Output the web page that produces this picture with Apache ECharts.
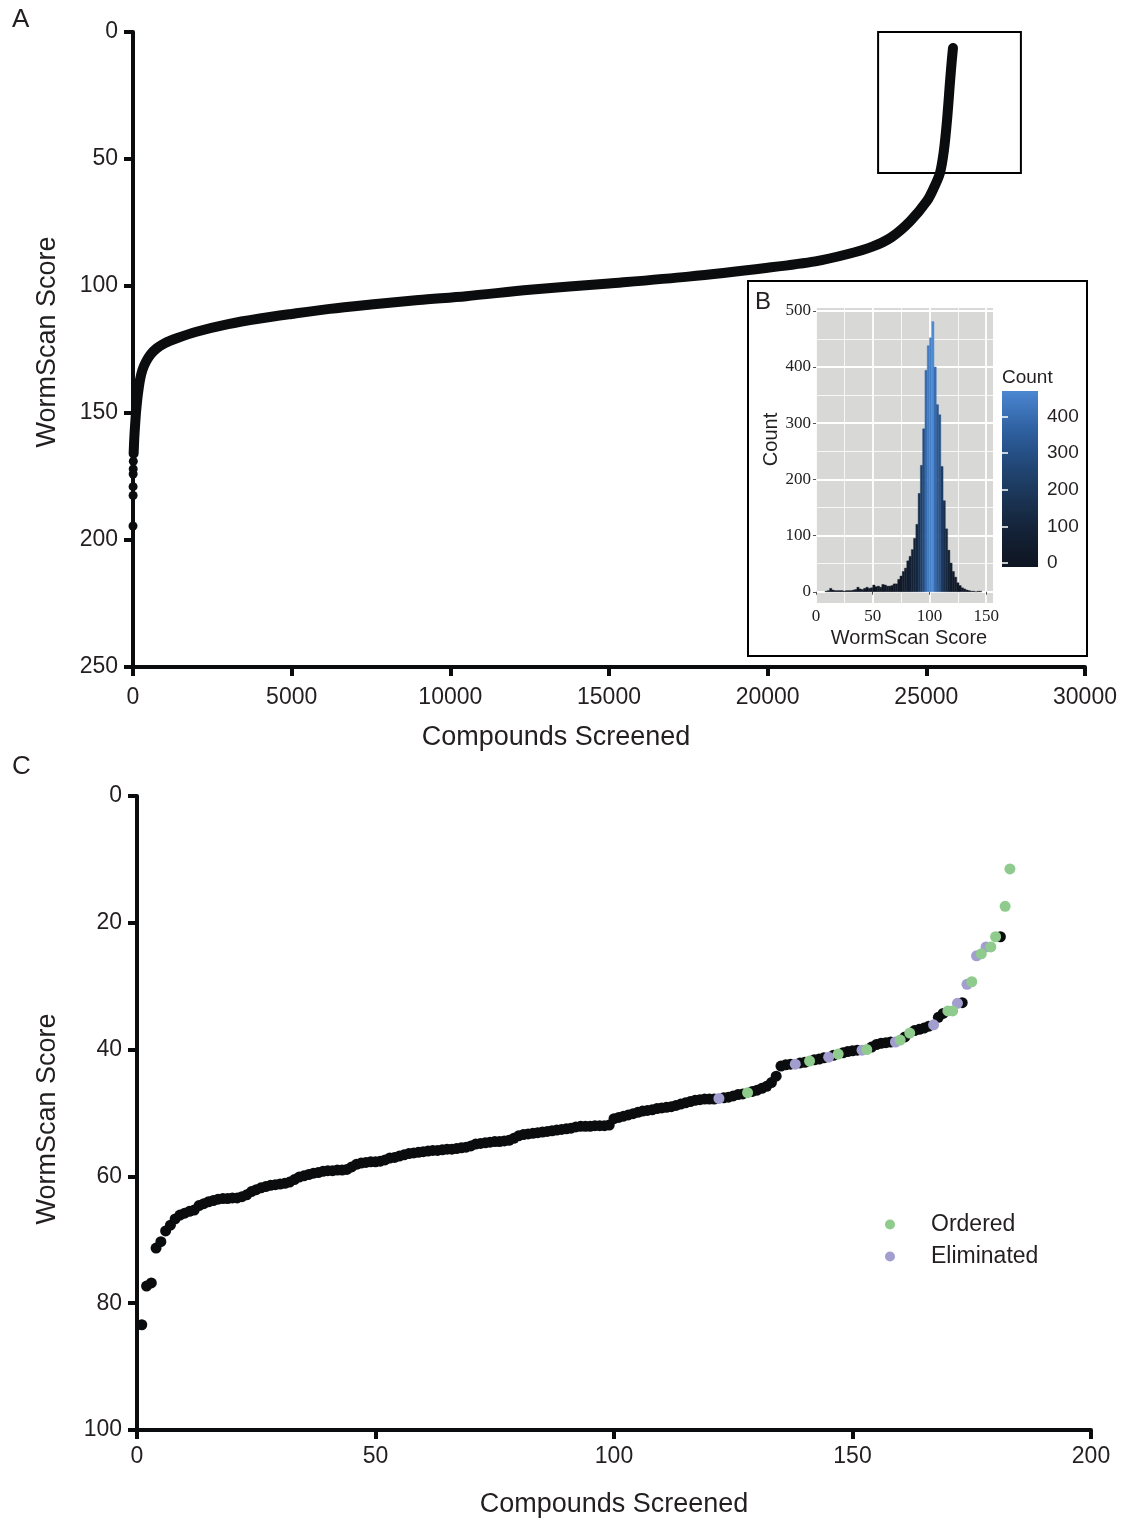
<!DOCTYPE html>
<html><head><meta charset="utf-8">
<script src="https://cdn.jsdelivr.net/npm/echarts@6/dist/echarts.min.js"></script>
<style>html,body{margin:0;padding:0;background:#fff}#c{width:1134px;height:1519px}</style>
</head><body><div id="c"></div>
<script>
// ---------- Panel A : all compounds ----------
const ticksAx = [0, 5000, 10000, 15000, 20000, 25000, 30000];
const ticksAy = [0, 50, 100, 150, 200, 250];
const curveAx = [20, 40, 70, 100, 150, 220, 300, 400, 550, 750, 1000, 1400, 2000, 3000, 4000, 5000, 6200, 7500, 9000, 10500, 12500, 15000, 17500, 20000, 21500, 22500, 23300, 23900, 24490, 25020, 25250, 25430, 25550, 25650, 25750, 25800, 25840];
const curveAy = [166, 160, 154, 149, 143, 137, 133, 130, 127, 124.5, 122.5, 120.5, 118, 115, 112.8, 111, 109, 107.3, 105.5, 104, 101.5, 99, 96.3, 92.8, 90.3, 87.5, 84.5, 80.8, 74.5, 66.5, 61, 55.5, 47, 35, 19, 11.5, 6.3];
const outlierAx = [0, 3, 3, 5, 7, 10];
const outlierAy = [194.5, 182.5, 179, 174, 172, 169];
const zoomBoxA = [23480, 0, 27980, 55.5];

// ---------- Panel B : histogram ----------
const histTicksX = [0, 50, 100, 150];
const histMinorX = [25, 75, 125];
const histTicksY = [0, 100, 200, 300, 400, 500];
const histMinorY = [50, 150, 250, 350, 450];
const histBinWidth = 2;
const histBinStart = [8, 10, 12, 14, 16, 18, 20, 22, 24, 26, 28, 30, 32, 34, 36, 38, 40, 42, 44, 46, 48, 50, 52, 54, 56, 58, 60, 62, 64, 66, 68, 70, 72, 74, 76, 78, 80, 82, 84, 86, 88, 90, 92, 94, 96, 98, 100, 102, 104, 106, 108, 110, 112, 114, 116, 118, 120, 122, 124, 126, 128, 130, 132, 134, 136, 138, 140, 142, 144];
const histCounts = [1, 2, 6, 3, 2, 2, 2, 2, 1, 2, 2, 2, 3, 4, 8, 5, 4, 6, 8, 6, 7, 12, 9, 10, 8, 13, 12, 10, 10, 11, 14, 14, 22, 28, 36, 42, 55, 63, 75, 95, 120, 175, 225, 290, 394, 438, 452, 481, 400, 333, 315, 223, 162, 112, 74, 51, 36, 26, 16, 11, 7, 5, 3, 2, 1, 1, 0, 1, 1];
const colorbarTicks = [0, 100, 200, 300, 400];

// ---------- Panel C : top hits ----------
const ticksCx = [0, 50, 100, 150, 200];
const ticksCy = [0, 20, 40, 60, 80, 100];
const scoresC = [
  83.4, 77.3, 76.8, 71.3, 70.3, 68.6, 67.7, 66.7, 66.1, 65.8,
  65.5, 65.3, 64.6, 64.3, 64.0, 63.8, 63.6, 63.5, 63.5, 63.4,
  63.4, 63.2, 62.9, 62.4, 62.1, 61.8, 61.6, 61.4, 61.3, 61.2,
  61.1, 60.9, 60.5, 60.1, 59.9, 59.7, 59.5, 59.4, 59.2, 59.1,
  59.1, 59.0, 59.0, 58.9, 58.5, 58.1, 57.9, 57.8, 57.7, 57.7,
  57.6, 57.4, 57.1, 57.0, 56.8, 56.6, 56.4, 56.3, 56.2, 56.1,
  56.0, 55.9, 55.9, 55.8, 55.7, 55.7, 55.6, 55.5, 55.4, 55.2,
  54.9, 54.8, 54.7, 54.6, 54.5, 54.5, 54.4, 54.3, 54.0, 53.6,
  53.4, 53.3, 53.2, 53.1, 53.0, 52.9, 52.8, 52.7, 52.6, 52.5,
  52.4, 52.2, 52.1, 52.1, 52.1, 52.0, 52.0, 52.0, 51.9, 50.9,
  50.7, 50.5, 50.3, 50.1, 49.9, 49.7, 49.6, 49.5, 49.3, 49.2,
  49.1, 49.0, 48.8, 48.6, 48.4, 48.2, 48.0, 47.9, 47.8, 47.8,
  47.8, 47.7, 47.6, 47.5, 47.3, 47.1, 47.0, 46.8, 46.6, 46.4,
  46.1, 45.8, 45.2, 44.2, 42.6, 42.4, 42.3, 42.3, 42.1, 42.0,
  41.8, 41.6, 41.5, 41.3, 41.2, 40.9, 40.7, 40.5, 40.3, 40.2,
  40.1, 40.1, 40.0, 39.6, 39.2, 39.0, 38.9, 38.8, 38.8, 38.5,
  38.0, 37.4, 37.0, 36.8, 36.6, 36.3, 36.1, 34.9, 34.3, 33.9,
  33.9, 32.7, 32.6, 29.7, 29.3, 25.2, 24.9, 23.8, 23.8, 22.2,
  22.2, 17.4, 11.5
];
const orderedRanks = [128, 141, 147, 153, 160, 162, 170, 171, 175, 177, 179, 180, 182, 183];
const eliminatedRanks = [122, 138, 145, 152, 159, 167, 172, 174, 176, 178];

// ---------- build ----------
const FONT = 'Liberation Sans';
const TXT = '#231f20';
const INK = '#0a0c0e';
const GREEN = '#8ecb8c';
const PURPLE = '#a29fd0';
const rampC = ['#0f1522', '#162840', '#1f416b', '#2d5f9f', '#4f8bd6'];
const histMax = Math.max.apply(null, histCounts);
function histColor(c) { return echarts.color.lerp(Math.max(0, Math.min(1, c / histMax)), rampC); }

const curveA = curveAx.map((x, i) => [x, curveAy[i]]);
const outA = outlierAx.map((x, i) => [x, outlierAy[i]]);
const blackC = [], orderedC = [], eliminatedC = [];
scoresC.forEach((s, i) => {
  const r = i + 1;
  if (orderedRanks.indexOf(r) >= 0) orderedC.push([r, s]);
  else if (eliminatedRanks.indexOf(r) >= 0) eliminatedC.push([r, s]);
  else blackC.push([r, s]);
});
const histData = histBinStart.map((b, i) => [b, b + histBinWidth, histCounts[i]]);
const cbMin = -11, cbMax = 470;
const plain = v => String(v);

function mainAxis(ticks, extra) {
  return Object.assign({
    type: 'value',
    min: ticks[0], max: ticks[ticks.length - 1], interval: ticks[1] - ticks[0],
    axisLine: { show: true, onZero: false, lineStyle: { color: INK, width: 4 } },
    axisTick: { show: true, length: 9, lineStyle: { color: INK, width: 4 } },
    splitLine: { show: false },
    nameLocation: 'middle',
    nameTextStyle: { fontSize: 27, color: TXT, fontFamily: FONT }
  }, extra);
}

const option = {
  animation: false,
  backgroundColor: '#fff',
  textStyle: { fontFamily: FONT },
  title: [
    { text: 'A', left: 12, top: 7, padding: 0, textStyle: { fontSize: 26, fontWeight: 'normal', color: TXT, fontFamily: FONT } },
    { text: 'B', left: 755, top: 290, padding: 0, textStyle: { fontSize: 24, fontWeight: 'normal', color: TXT, fontFamily: FONT } },
    { text: 'C', left: 12, top: 754, padding: 0, textStyle: { fontSize: 26, fontWeight: 'normal', color: TXT, fontFamily: FONT } },
    { text: 'Count', left: 1002, top: 368, padding: 0, textStyle: { fontSize: 19, fontWeight: 'normal', color: TXT, fontFamily: FONT } }
  ],
  graphic: [
    { type: 'rect', z: 100, shape: { x: 748, y: 281, width: 339, height: 375 }, style: { fill: 'transparent', stroke: '#000', lineWidth: 2 } }
  ],
  legend: {
    data: ['Ordered', 'Eliminated'],
    orient: 'vertical', left: 880, top: 1208,
    itemWidth: 10, itemHeight: 10, itemGap: 9, icon: 'circle',
    textStyle: { fontSize: 23, color: TXT, fontFamily: FONT, padding: [0, 0, 0, 31] }
  },
  grid: [
    { left: 133, top: 32, width: 952, height: 635 },
    { left: 816, top: 308, width: 177, height: 295, show: true, backgroundColor: '#d8d8d6', borderWidth: 0 },
    { left: 1002, top: 391, width: 36, height: 176 },
    { left: 137, top: 796, width: 954, height: 634 }
  ],
  xAxis: [
    mainAxis(ticksAx, { gridIndex: 0, name: 'Compounds Screened', nameGap: 57,
      axisLabel: { fontSize: 23, color: TXT, fontFamily: FONT, margin: 19, formatter: plain },
      nameTextStyle: { fontSize: 27, color: TXT, fontFamily: FONT, padding: [0, 106, 0, 0] } }),
    { gridIndex: 1, type: 'value', min: 0, max: 156,
      name: 'WormScan Score', nameLocation: 'middle', nameGap: 25,
      nameTextStyle: { fontSize: 20, color: TXT, fontFamily: FONT, padding: [0, 0, 0, 9] },
      axisLine: { show: false },
      axisTick: { show: true, length: 3, lineStyle: { color: '#555', width: 1 }, customValues: histTicksX },
      axisLabel: { fontFamily: 'Liberation Serif', fontSize: 17, color: '#222', margin: 5, customValues: histTicksX, formatter: plain },
      splitLine: { show: true, lineStyle: { color: '#fff', width: 1.8 } } },
    { gridIndex: 2, type: 'value', min: 0, max: 1, show: false },
    mainAxis(ticksCx, { gridIndex: 3, name: 'Compounds Screened', nameGap: 61,
      axisLabel: { fontSize: 23, color: TXT, fontFamily: FONT, margin: 15, formatter: plain } }),
    { gridIndex: 1, type: 'value', min: 0, max: 156, axisLine: { show: false },
      axisTick: { show: false, customValues: histMinorX }, axisLabel: { show: false },
      splitLine: { show: true, lineStyle: { color: '#fff', width: 0.8 } } }
  ],
  yAxis: [
    mainAxis(ticksAy, { gridIndex: 0, inverse: true, name: 'WormScan Score', nameGap: 72,
      axisLabel: { fontSize: 23, color: TXT, fontFamily: FONT, margin: 15, formatter: plain },
      nameTextStyle: { fontSize: 27, color: TXT, fontFamily: FONT, padding: [0, 0, 0, 15] } }),
    { gridIndex: 1, type: 'value', min: -20, max: 505,
      name: 'Count', nameLocation: 'middle', nameGap: 35,
      nameTextStyle: { fontSize: 20, color: TXT, fontFamily: FONT, padding: [0, 0, 0, 32] },
      axisLine: { show: false },
      axisTick: { show: true, length: 3, lineStyle: { color: '#555', width: 1 }, customValues: histTicksY },
      axisLabel: { fontFamily: 'Liberation Serif', fontSize: 17, color: '#222', margin: 5, customValues: histTicksY, formatter: plain },
      splitLine: { show: true, lineStyle: { color: '#fff', width: 1.8 } } },
    { gridIndex: 2, type: 'value', min: cbMin, max: cbMax, position: 'right', z: 10,
      axisLine: { show: false },
      axisTick: { show: true, inside: true, length: 7, lineStyle: { color: '#fff', width: 1.5 }, customValues: colorbarTicks },
      axisLabel: { fontSize: 19, color: TXT, fontFamily: FONT, margin: 9, customValues: colorbarTicks, formatter: plain },
      splitLine: { show: false } },
    mainAxis(ticksCy, { gridIndex: 3, inverse: true, name: 'WormScan Score', nameGap: 76,
      axisLabel: { fontSize: 23, color: TXT, fontFamily: FONT, margin: 15, formatter: plain },
      nameTextStyle: { fontSize: 27, color: TXT, fontFamily: FONT, padding: [0, 12, 0, 0] } }),
    { gridIndex: 1, type: 'value', min: -20, max: 505, axisLine: { show: false },
      axisTick: { show: false, customValues: histMinorY }, axisLabel: { show: false },
      splitLine: { show: true, lineStyle: { color: '#fff', width: 0.8 } } },
    { gridIndex: 2, type: 'value', min: cbMin, max: cbMax, position: 'left', z: 10,
      axisLine: { show: false },
      axisTick: { show: true, inside: true, length: 6, lineStyle: { color: '#fff', width: 1.5 }, customValues: colorbarTicks },
      axisLabel: { show: false }, splitLine: { show: false } }
  ],
  series: [
    { name: 'all', type: 'line', xAxisIndex: 0, yAxisIndex: 0, data: curveA, clip: false,
      smooth: 0.3, showSymbol: false, symbol: 'none',
      lineStyle: { color: INK, width: 10, cap: 'round', join: 'round' },
      markArea: { silent: true, itemStyle: { color: 'rgba(0,0,0,0)', borderColor: '#000', borderWidth: 2 },
        data: [[{ coord: [zoomBoxA[0], zoomBoxA[1]] }, { coord: [zoomBoxA[2], zoomBoxA[3]] }]] } },
    { name: 'allDots', type: 'scatter', xAxisIndex: 0, yAxisIndex: 0, data: outA, clip: false,
      symbolSize: 9, itemStyle: { color: INK, opacity: 1 } },
    { name: 'hist', type: 'custom', xAxisIndex: 1, yAxisIndex: 1, data: histData, encode: { x: [0, 1], y: 2 },
      renderItem: function (params, api) {
        const x0 = api.value(0), x1 = api.value(1), c = api.value(2);
        const p0 = api.coord([x0, c]), p1 = api.coord([x1, 0]);
        const col = histColor(c);
        return { type: 'rect', shape: { x: p0[0], y: p0[1], width: p1[0] - p0[0], height: p1[1] - p0[1] },
          style: { fill: col, stroke: col, lineWidth: 0.4 } };
      } },
    { name: 'colorbar', type: 'custom', xAxisIndex: 2, yAxisIndex: 2, data: [[0, cbMin], [1, cbMax]], encode: { x: 0, y: 1 },
      renderItem: function (params, api) {
        if (params.dataIndex !== 0) return null;
        const a = api.coord([0, cbMax]), b = api.coord([1, cbMin]);
        const stops = [];
        for (let k = 0; k <= 10; k++) {
          const v = cbMax - (cbMax - cbMin) * k / 10;
          stops.push({ offset: k / 10, color: histColor(v) });
        }
        return { type: 'rect', shape: { x: a[0], y: a[1], width: b[0] - a[0], height: b[1] - a[1] },
          style: { fill: new echarts.graphic.LinearGradient(0, 0, 0, 1, stops) } };
      } },
    { name: 'screened', type: 'scatter', xAxisIndex: 3, yAxisIndex: 3, data: blackC, clip: false,
      symbolSize: 11, itemStyle: { color: INK, opacity: 1 } },
    { name: 'Eliminated', type: 'scatter', xAxisIndex: 3, yAxisIndex: 3, data: eliminatedC, clip: false,
      symbolSize: 11, itemStyle: { color: PURPLE, opacity: 1 } },
    { name: 'Ordered', type: 'scatter', xAxisIndex: 3, yAxisIndex: 3, data: orderedC, clip: false,
      symbolSize: 11, itemStyle: { color: GREEN, opacity: 1 } }
  ]
};
const chart = echarts.init(document.getElementById('c'), null, { renderer: 'canvas' });
chart.setOption(option);
</script></body></html>
